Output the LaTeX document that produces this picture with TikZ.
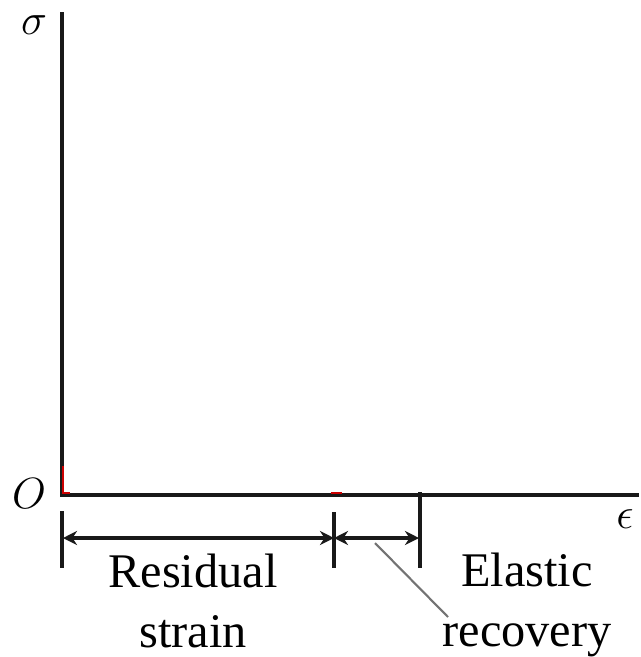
\documentclass[tikz,border=0pt]{standalone}
\usepackage{fontspec}
\setmainfont{Liberation Serif}
\usepackage{tikz}
\usetikzlibrary{arrows.meta}

\tikzset{
    axis/.style={line width=2pt, black!90},
    tick/.style={line width=2pt, black!90},
    dim/.style={line width=2pt, black!90, {Stealth[length=8pt,width=8pt]}-{Stealth[length=8pt,width=8pt]}},
    lbl/.style={font=\fontsize{27.5}{34}\selectfont, inner sep=0pt, align=center},
    sym/.style={font=\fontsize{28}{34}\selectfont, inner sep=0pt}
}

\begin{document}
\begin{tikzpicture}[x=0.02cm, y=-0.02cm]
    \useasboundingbox (0,0) rectangle (641,657);

    % Axes
    \coordinate (O) at (62,495);
    \coordinate (ytop) at (62,12);
    \coordinate (xend) at (639,495);
    \draw[axis] (ytop) -- (O) -- (xend);
    \node[sym] (sigma) at (34,25) {$\sigma$};
    \node[sym] (orig) at (29,494) {$O$};
    \node[sym] (eps) at (625,519) {$\epsilon$};

    % faint red leftovers
    \draw[red!80!black, line width=1pt] (63,466) -- (63,493) -- (70,493);
    \draw[red!80!black, line width=1.5pt] (331,493) -- (342,493);

    % Ticks
    \coordinate (t1a) at (62,511);  \coordinate (t1b) at (62,568);
    \coordinate (t2a) at (334,512); \coordinate (t2b) at (334,568);
    \coordinate (t3a) at (420,492); \coordinate (t3b) at (420,568);
    \draw[tick] (t1a) -- (t1b);
    \draw[tick] (t2a) -- (t2b);
    \draw[tick] (t3a) -- (t3b);

    % Dimension arrows
    \coordinate (d1) at (63,538);
    \coordinate (d2) at (334,538);
    \coordinate (d3) at (419,538);
    \draw[dim] (d1) -- (d2);
    \draw[dim] (d2) -- (d3);

    % Labels
    \node[lbl] (resid) at (193,601) {Residual\\strain};
    \node[lbl] (elast) at (527,605) {Elastic\\recovery};

    % Pointer
    \coordinate (p1) at (375,543);
    \coordinate (p2) at (448,617);
    \draw[black!55, line width=1.2pt] (p1) -- (p2);
\end{tikzpicture}
\end{document}
